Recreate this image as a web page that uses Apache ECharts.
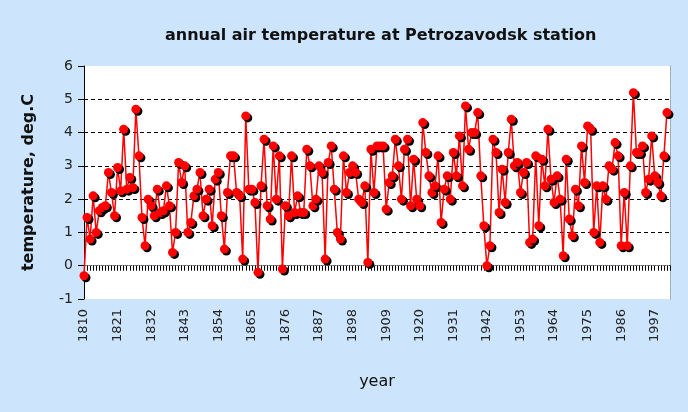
<!DOCTYPE html>
<html><head><meta charset="utf-8">
<script src="https://cdn.jsdelivr.net/npm/echarts@6/dist/echarts.min.js"></script>
<style>html,body{margin:0;padding:0;background:#cce4fc;} #c{width:688px;height:412px;}</style>
</head><body><div id="c"></div>
<script>
// categories: years 1810..2002 (axis runs slightly past last observation)
const firstYear = 1810;
const lastAxisYear = 2002;
const tickLabels = ['1810','1821','1832','1843','1854','1865','1876','1887','1898','1909','1920','1931','1942','1953','1964','1975','1986','1997'];
const yTicks = [-1, 0, 1, 2, 3, 4, 5, 6];

// annual mean air temperature, deg.C, 1810..2001
const temp1810s = [-0.3, 1.45, 0.8, 2.1, 1.0, 1.65, 1.75, 1.8, 2.8, 2.2, 1.5, 2.95, 2.25, 4.1, 2.3, 2.65, 2.35, 4.7, 3.3, 1.45, 0.6, 2.0, 1.8, 1.5, 2.3, 1.6, 1.65, 2.4];
const temp1838s = [1.8, 0.4, 1.0, 3.1, 2.5, 3.0, 1.0, 1.3, 2.1, 2.3, 2.8, 1.5, 2.0, 2.3, 1.2, 2.6, 2.8, 1.5, 0.5, 2.2, 3.3, 3.3, 2.2, 2.1, 0.2, 4.5, 2.3, 2.3, 1.9, -0.2];
const temp1868s = [2.4, 3.8, 1.8, 1.4, 3.6, 2.0, 3.3, -0.1, 1.8, 1.5, 3.3, 1.6, 2.1, 1.6, 1.6, 3.5, 3.0, 1.8, 2.0, 3.0, 2.8, 0.2, 3.1, 3.6, 2.3, 1.0, 0.8, 3.3, 2.2, 2.8];
const temp1898s = [3.0, 2.8, 2.0, 1.9, 2.4, 0.1, 3.5, 2.2, 3.6, 3.6, 3.6, 1.7, 2.5, 2.7, 3.8, 3.0, 2.0, 3.5, 3.8, 1.8, 3.2, 2.0, 1.8, 4.3, 3.4, 2.7, 2.2, 2.4, 3.3, 1.3];
const temp1928s = [2.3, 2.7, 2.0, 3.4, 2.7, 3.9, 2.4, 4.8, 3.5, 4.0, 4.0, 4.6, 2.7, 1.2, 0.0, 0.6, 3.8, 3.4, 1.6, 2.9, 1.9, 3.4, 4.4, 3.0, 3.1, 2.2, 2.8, 3.1, 0.7];
const temp1957s = [0.8, 3.3, 1.2, 3.2, 2.4, 4.1, 2.6, 1.9, 2.7, 2.0, 0.3, 3.2, 1.4, 0.9, 2.3, 1.8, 3.6, 2.5, 4.2, 4.1, 1.0, 2.4, 0.7, 2.4, 2.0, 3.0, 2.9, 3.7];
const temp1985s = [3.3, 0.6, 2.2, 0.6, 3.0, 5.2, 3.4, 3.4, 3.6, 2.2, 2.6, 3.9, 2.7, 2.5, 2.1, 3.3, 4.6];

const temperature = [].concat(temp1810s, temp1838s, temp1868s, temp1898s, temp1928s, temp1957s, temp1985s);
const years = [];
for (let y = firstYear; y <= lastAxisYear; y++) years.push(String(y));

const FONT = 'DejaVu Sans';
const chart = echarts.init(document.getElementById('c'), null, {renderer: 'canvas'});
chart.setOption({
  backgroundColor: '#cce4fc',
  animation: false,
  title: {
    text: 'annual air temperature at Petrozavodsk station',
    left: 160, top: 23,
    textStyle: {fontFamily: FONT, fontSize: 16, fontWeight: 'bold', color: '#111'}
  },
  grid: {left: 84, right: 18, top: 66, bottom: 113, show: true, backgroundColor: '#ffffff', borderWidth: 0},
  xAxis: [{
    type: 'category', data: years, boundaryGap: false,
    name: 'year', nameLocation: 'middle', nameGap: 75,
    nameTextStyle: {fontFamily: FONT, fontSize: 16, color: '#111'},
    axisLine: {show: true, lineStyle: {color: '#000', width: 1}},
    axisTick: {show: true, interval: 0, length: 5, lineStyle: {color: '#000'}},
    axisLabel: {
      interval: function (i, v) { return tickLabels.indexOf(v) >= 0; },
      rotate: 90, margin: 10, fontFamily: FONT, fontSize: 13, color: '#222'
    },
    splitLine: {show: false}
  }, {
    type: 'category', data: years, boundaryGap: false, position: 'top',
    axisLine: {show: true, lineStyle: {color: '#9aa0a8', type: 'dotted'}},
    axisTick: {show: false}, axisLabel: {show: false}, splitLine: {show: false}
  }],
  yAxis: [{
    type: 'value', min: yTicks[0], max: yTicks[yTicks.length - 1], interval: 1,
    name: 'temperature, deg.C', nameLocation: 'middle', nameGap: 47,
    nameTextStyle: {fontFamily: FONT, fontSize: 16, fontWeight: 'bold', color: '#111'},
    axisLine: {show: true, lineStyle: {color: '#000', width: 1}},
    axisTick: {show: true, length: 6, lineStyle: {color: '#000'}},
    axisLabel: {margin: 11, fontFamily: FONT, fontSize: 14, color: '#222'},
    splitLine: {show: true, showMinLine: false, showMaxLine: false, lineStyle: {color: '#000', type: [4, 3], width: 1}}
  }, {
    type: 'value', min: yTicks[0], max: yTicks[yTicks.length - 1], interval: 1, position: 'right',
    axisLine: {show: true, lineStyle: {color: '#9aa0a8', type: 'dotted'}},
    axisTick: {show: false}, axisLabel: {show: false}, splitLine: {show: false}
  }],
  series: [{
    type: 'line', data: temperature, xAxisIndex: 0, yAxisIndex: 0,
    symbol: 'circle', symbolSize: 9, showAllSymbol: true,
    lineStyle: {color: '#ff0000', width: 1.5},
    itemStyle: {color: '#ff0000', shadowColor: '#000', shadowOffsetX: 2, shadowOffsetY: 2, shadowBlur: 0},
    emphasis: {disabled: true}
  }]
});
</script></body></html>
